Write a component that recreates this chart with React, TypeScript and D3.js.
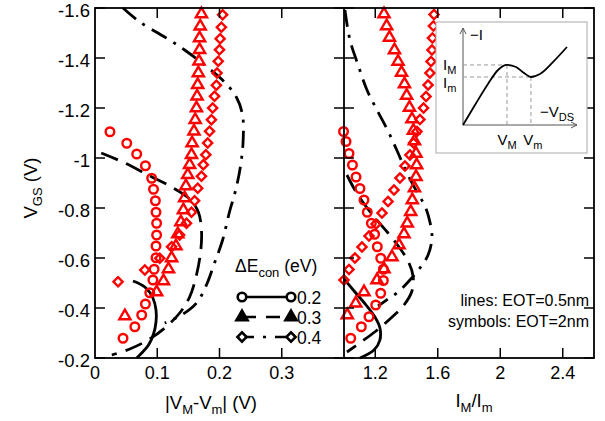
import React from "react";
import * as d3 from "d3";

// values as [x, VGS]
const circlesLeft: [number, number][] = [
  [0.024, -1.105], [0.051, -1.059], [0.067, -1.016], [0.081, -0.969], [0.091, -0.919],
  [0.094, -0.875], [0.097, -0.829], [0.098, -0.783], [0.099, -0.739], [0.099, -0.692],
  [0.098, -0.648], [0.098, -0.601], [0.095, -0.555], [0.093, -0.512], [0.088, -0.461],
  [0.081, -0.416], [0.075, -0.372], [0.064, -0.325], [0.045, -0.279],
];
const trianglesLeft: [number, number][] = [
  [0.171, -1.576], [0.169, -1.527], [0.168, -1.48], [0.168, -1.433], [0.167, -1.387],
  [0.166, -1.34], [0.165, -1.293], [0.164, -1.247], [0.163, -1.2], [0.161, -1.153],
  [0.159, -1.107], [0.156, -1.06], [0.155, -1.013], [0.152, -0.973], [0.149, -0.933],
  [0.146, -0.888], [0.144, -0.84], [0.142, -0.792], [0.138, -0.744], [0.133, -0.696],
  [0.13, -0.648], [0.123, -0.6], [0.118, -0.556], [0.11, -0.508], [0.099, -0.464],
  [0.048, -0.368],
];
const diamondsLeft: [number, number][] = [
  [0.205, -1.573], [0.203, -1.523], [0.201, -1.477], [0.2, -1.433], [0.198, -1.387],
  [0.196, -1.34], [0.195, -1.291], [0.192, -1.247], [0.189, -1.2], [0.187, -1.153],
  [0.184, -1.107], [0.181, -1.06], [0.178, -1.013], [0.174, -0.973], [0.171, -0.927],
  [0.165, -0.879], [0.16, -0.829], [0.155, -0.783], [0.147, -0.739], [0.136, -0.692],
  [0.123, -0.645], [0.104, -0.599], [0.08, -0.552], [0.037, -0.505],
];
const solidLeft: [number, number][] = [
  [0.061, -0.508], [0.08, -0.484], [0.093, -0.44], [0.098, -0.392], [0.098, -0.344],
  [0.094, -0.296], [0.086, -0.252], [0.075, -0.22], [0.067, -0.2],
];
const dashedLeft: [number, number][] = [
  [0.01, -1.02], [0.048, -0.98], [0.088, -0.928], [0.123, -0.884], [0.152, -0.836],
  [0.166, -0.784], [0.171, -0.712], [0.17, -0.632], [0.163, -0.532], [0.152, -0.444],
  [0.136, -0.38], [0.112, -0.32], [0.085, -0.272], [0.056, -0.236], [0.027, -0.212],
];
const dashDotLeft: [number, number][] = [
  [0.045, -1.6], [0.072, -1.544], [0.112, -1.484], [0.144, -1.432], [0.176, -1.372],
  [0.208, -1.304], [0.227, -1.244], [0.237, -1.172], [0.238, -1.072], [0.234, -0.972],
  [0.226, -0.872], [0.216, -0.784], [0.205, -0.672], [0.192, -0.58], [0.179, -0.492],
  [0.163, -0.42], [0.139, -0.372], [0.112, -0.34],
];

const circlesRight: [number, number][] = [
  [0.997, -1.106], [1.013, -1.066], [1.032, -1.018], [1.054, -0.972], [1.077, -0.924],
  [1.102, -0.878], [1.128, -0.832], [1.149, -0.783], [1.175, -0.739], [1.196, -0.695],
  [1.213, -0.645], [1.235, -0.599], [1.252, -0.555], [1.252, -0.51], [1.235, -0.459],
  [1.203, -0.412], [1.16, -0.365], [1.111, -0.325], [1.043, -0.279],
];
const trianglesRight: [number, number][] = [
  [1.256, -1.576], [1.273, -1.528], [1.291, -1.482], [1.323, -1.432], [1.346, -1.386],
  [1.368, -1.342], [1.387, -1.296], [1.401, -1.25], [1.419, -1.202], [1.435, -1.156],
  [1.444, -1.11], [1.451, -1.068], [1.461, -1.018], [1.465, -0.972], [1.461, -0.925],
  [1.451, -0.88], [1.437, -0.832], [1.427, -0.785], [1.405, -0.739], [1.384, -0.696],
  [1.352, -0.652], [1.307, -0.604], [1.256, -0.556], [1.211, -0.512], [1.128, -0.464],
  [1.075, -0.419], [1.021, -0.372],
];
const diamondsRight: [number, number][] = [
  [1.576, -1.574], [1.572, -1.528], [1.566, -1.48], [1.563, -1.432], [1.557, -1.386],
  [1.55, -1.34], [1.538, -1.292], [1.525, -1.246], [1.509, -1.2], [1.486, -1.154],
  [1.467, -1.106], [1.445, -1.06], [1.422, -1.012], [1.39, -0.968], [1.358, -0.92],
  [1.32, -0.872], [1.282, -0.826], [1.243, -0.78], [1.205, -0.736], [1.16, -0.688],
  [1.115, -0.644], [1.07, -0.6], [1.032, -0.554], [1.0, -0.512],
];
const solidRight: [number, number][] = [
  [1.0, -0.516], [1.07, -0.464], [1.141, -0.412], [1.198, -0.364], [1.23, -0.32],
  [1.23, -0.272], [1.192, -0.232], [1.102, -0.2],
];
const dashedRight: [number, number][] = [
  [1.019, -0.932], [1.07, -0.872], [1.134, -0.812], [1.205, -0.756], [1.282, -0.7],
  [1.352, -0.644], [1.41, -0.588], [1.442, -0.528], [1.435, -0.468], [1.384, -0.412],
  [1.301, -0.36], [1.205, -0.308], [1.109, -0.264], [1.019, -0.224],
];
const dashDotRight: [number, number][] = [
  [1.006, -1.592], [1.038, -1.472], [1.09, -1.372], [1.147, -1.272], [1.218, -1.184],
  [1.288, -1.1], [1.346, -1.02], [1.403, -0.94], [1.467, -0.864], [1.518, -0.808],
  [1.55, -0.744], [1.563, -0.68], [1.538, -0.612], [1.486, -0.56], [1.422, -0.512],
  [1.346, -0.464], [1.282, -0.436], [1.218, -0.408],
];

const vgsTicks = [-1.6, -1.4, -1.2, -1, -0.8, -0.6, -0.4, -0.2];
const leftXTicks = [0, 0.1, 0.2, 0.3];
const rightXTicks = [1.2, 1.6, 2, 2.4];
const legendLabels = ["0.2", "0.3", "0.4"];

// schematic I-V curve in the inset (normalised units)
const insetV = [0, 0.105, 0.219, 0.307, 0.386, 0.465, 0.535, 0.596, 0.675, 0.789, 0.912];
const insetI = [0, 0.206, 0.423, 0.567, 0.619, 0.598, 0.536, 0.495, 0.526, 0.649, 0.804];
const VM = 0.386, Vm = 0.596, IM = 0.619, Im = 0.495;

const FONT = "'Liberation Sans', Arial, sans-serif";
const RED = "#ff0000";
const DASH = "18,9";
const DASHDOT = "17,8,3,8";

const y = d3.scaleLinear().domain([-0.2, -1.6]).range([358, 8]);
const xL = d3.scaleLinear().domain([0, 0.4]).range([95, 344]);
const xR = d3.scaleLinear().domain([1, 2.6]).range([344, 594]);

const circleSym = d3.symbol(d3.symbolCircle, 58)();
const triSym = d3.symbol(d3.symbolTriangle, 54)();
const sqSym = d3.symbol(d3.symbolSquare, 42)();

const Marker = ({ kind, cx, cy, color, sw, fill }: any) => {
  const d = kind === "c" ? circleSym : kind === "t" ? triSym : sqSym;
  const rot = kind === "d" ? " rotate(45)" : "";
  return (
    <path d={d as string} transform={`translate(${cx},${cy})${rot}`}
      fill={fill} stroke={color} strokeWidth={sw} />
  );
};

const App = () => {
  const lineL = d3.line<[number, number]>().x(d => xL(d[0])).y(d => y(d[1])).curve(d3.curveCatmullRom);
  const lineR = d3.line<[number, number]>().x(d => xR(d[0])).y(d => y(d[1])).curve(d3.curveCatmullRom);

  const xIn = d3.scaleLinear().domain([0, 1]).range([463, 577]);
  const yIn = d3.scaleLinear().domain([0, 1]).range([125, 28]);
  const insetLine = d3.line<number>().x(d => xIn(d)).y((d, i) => yIn(insetI[i])).curve(d3.curveMonotoneX);

  const markerSets = [
    { data: circlesLeft, kind: "c", sx: xL },
    { data: trianglesLeft, kind: "t", sx: xL },
    { data: diamondsLeft, kind: "d", sx: xL },
    { data: circlesRight, kind: "c", sx: xR },
    { data: trianglesRight, kind: "t", sx: xR },
    { data: diamondsRight, kind: "d", sx: xR },
  ];

  const lineSets = [
    { d: lineL(solidLeft), dash: undefined },
    { d: lineL(dashedLeft), dash: DASH },
    { d: lineL(dashDotLeft), dash: DASHDOT },
    { d: lineR(solidRight), dash: undefined },
    { d: lineR(dashedRight), dash: DASH },
    { d: lineR(dashDotRight), dash: DASHDOT },
  ];

  const legendKinds = ["c", "t", "d"];
  const legendDash = [undefined, "14,10", "12,9,3,9"];

  return (
    <svg width={605} height={421} style={{ position: "absolute", left: 0, top: 0, background: "#fff" }}
      fontFamily={FONT}>
      {lineSets.map((l, i) => (
        <path key={"l" + i} d={l.d as string} fill="none" stroke="#000" strokeWidth={2.8}
          strokeDasharray={l.dash} />
      ))}
      {markerSets.map((s, i) => s.data.map((p, j) => (
        <Marker key={`m${i}-${j}`} kind={s.kind} cx={s.sx(p[0])} cy={y(p[1])} color={RED} sw={2.4} fill="none" />
      )))}

      {/* frames */}
      <rect x={95} y={8} width={499} height={350} fill="none" stroke="#000" strokeWidth={1.8} />
      <line x1={344} x2={344} y1={8} y2={358} stroke="#000" strokeWidth={1.8} />

      {vgsTicks.map(t => (
        <g key={"yt" + t}>
          <line x1={95} x2={105} y1={y(t)} y2={y(t)} stroke="#000" strokeWidth={1.5} />
          <line x1={334} x2={354} y1={y(t)} y2={y(t)} stroke="#000" strokeWidth={1.5} />
          <line x1={584} x2={594} y1={y(t)} y2={y(t)} stroke="#000" strokeWidth={1.5} />
          <text x={90} y={y(t) + 8.5} fontSize={18.5} textAnchor="end">{String(t)}</text>
        </g>
      ))}
      {leftXTicks.map(t => (
        <g key={"xl" + t}>
          {t > 0 && <line x1={xL(t)} x2={xL(t)} y1={358} y2={348} stroke="#000" strokeWidth={1.5} />}
          {t > 0 && <line x1={xL(t)} x2={xL(t)} y1={8} y2={18} stroke="#000" strokeWidth={1.5} />}
          <text x={xL(t)} y={379} fontSize={18} textAnchor="middle">{String(t)}</text>
        </g>
      ))}
      {rightXTicks.map(t => (
        <g key={"xr" + t}>
          <line x1={xR(t)} x2={xR(t)} y1={358} y2={348} stroke="#000" strokeWidth={1.5} />
          <line x1={xR(t)} x2={xR(t)} y1={8} y2={18} stroke="#000" strokeWidth={1.5} />
          <text x={xR(t)} y={379} fontSize={18} textAnchor="middle">{String(t)}</text>
        </g>
      ))}

      {/* axis titles */}
      <text transform="translate(37,188) rotate(-90)" fontSize={18.5} textAnchor="middle">
        V<tspan fontSize={13} dy={5}>GS</tspan><tspan dy={-5}> (V)</tspan>
      </text>
      <text x={211} y={409} fontSize={18.5} textAnchor="middle">
        |V<tspan fontSize={13} dy={5}>M</tspan><tspan dy={-5}>-V</tspan><tspan fontSize={13} dy={5}>m</tspan><tspan dy={-5}>| (V)</tspan>
      </text>
      <text x={474} y={407} fontSize={18.5} textAnchor="middle">
        I<tspan fontSize={13} dy={5}>M</tspan><tspan dy={-5}>/I</tspan><tspan fontSize={13} dy={5}>m</tspan>
      </text>

      {/* legend */}
      <text x={235} y={272} fontSize={17.5}>
        ΔE<tspan fontSize={13} dy={5}>con</tspan><tspan dy={-5}> (eV)</tspan>
      </text>
      {legendLabels.map((lab, i) => {
        const ly = 297 + i * 20;
        return (
          <g key={"lg" + i}>
            <line x1={242} x2={291} y1={ly} y2={ly} stroke="#000" strokeWidth={2.4} strokeDasharray={legendDash[i]} />
            {[242, 291].map(mx => (
              <Marker key={mx} kind={legendKinds[i]} cx={mx} cy={ly} color="#000" sw={2.6}
                fill={legendKinds[i] === "t" ? "#000" : "#fff"} />
            ))}
            <text x={297} y={ly + 7} fontSize={17.5}>{lab}</text>
          </g>
        );
      })}

      <text x={589} y={306} fontSize={16} textAnchor="end">lines: EOT=0.5nm</text>
      <text x={589} y={327} fontSize={16} textAnchor="end">symbols: EOT=2nm</text>

      {/* inset */}
      <rect x={436} y={22} width={151} height={131} fill="#fff" stroke="#aaa" strokeWidth={1} />
      <line x1={xIn(0)} x2={xIn(1)} y1={yIn(0)} y2={yIn(0)} stroke="#555" strokeWidth={1} />
      <line x1={xIn(0)} x2={xIn(0)} y1={yIn(0)} y2={yIn(1)} stroke="#555" strokeWidth={1} />
      <path d={`M${xIn(1) - 6},${yIn(0) - 3}L${xIn(1)},${yIn(0)}L${xIn(1) - 6},${yIn(0) + 3}`} fill="none" stroke="#555" />
      <path d={`M${xIn(0) - 3},${yIn(1) + 6}L${xIn(0)},${yIn(1)}L${xIn(0) + 3},${yIn(1) + 6}`} fill="none" stroke="#555" />
      <g stroke="#999" strokeWidth={1} strokeDasharray="4,3">
        <line x1={xIn(0)} x2={xIn(VM)} y1={yIn(IM)} y2={yIn(IM)} />
        <line x1={xIn(0)} x2={xIn(Vm)} y1={yIn(Im)} y2={yIn(Im)} />
        <line x1={xIn(VM)} x2={xIn(VM)} y1={yIn(IM)} y2={yIn(0)} />
        <line x1={xIn(Vm)} x2={xIn(Vm)} y1={yIn(Im)} y2={yIn(0)} />
      </g>
      <path d={insetLine(insetV) as string} fill="none" stroke="#000" strokeWidth={1.8} />
      <text x={470} y={40} fontSize={15}>−I</text>
      <text x={443} y={70} fontSize={15}>I<tspan fontSize={11} dy={4}>M</tspan></text>
      <text x={443} y={88} fontSize={15}>I<tspan fontSize={11} dy={4}>m</tspan></text>
      <text x={540} y={117} fontSize={15}>−V<tspan fontSize={11} dy={4}>DS</tspan></text>
      <text x={xIn(VM)} y={145} fontSize={15} textAnchor="middle">V<tspan fontSize={11} dy={4}>M</tspan></text>
      <text x={xIn(Vm) + 2} y={145} fontSize={15} textAnchor="middle">V<tspan fontSize={11} dy={4}>m</tspan></text>
    </svg>
  );
};

export default App;
